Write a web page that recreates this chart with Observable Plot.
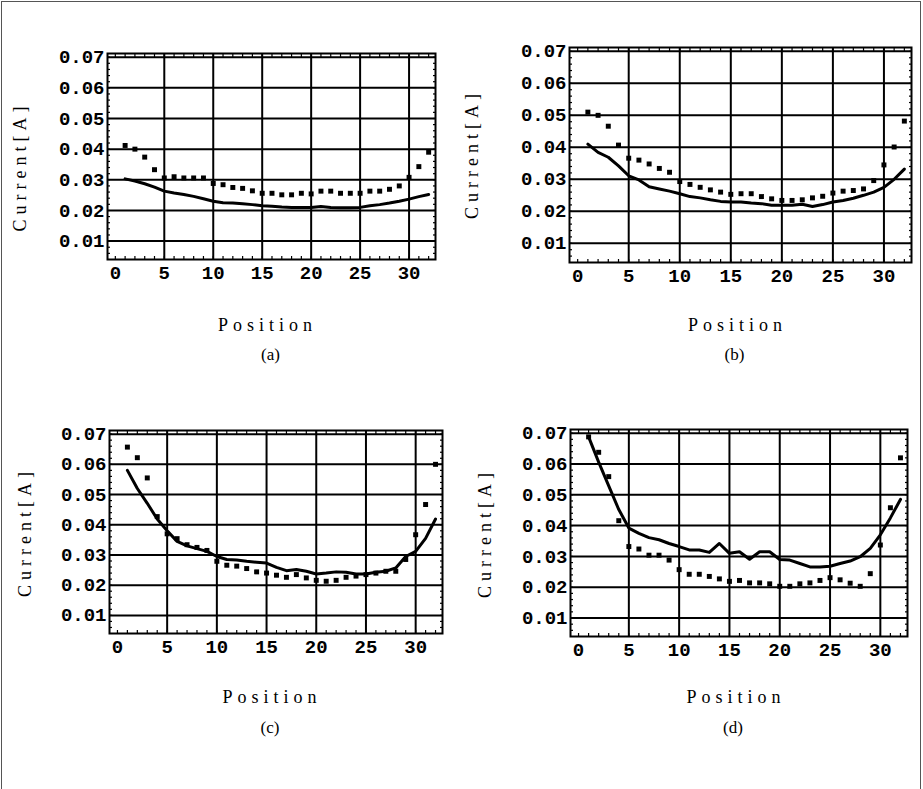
<!DOCTYPE html>
<html><head><meta charset="utf-8">
<script src="https://cdn.jsdelivr.net/npm/d3@7"></script>
<script src="https://cdn.jsdelivr.net/npm/@observablehq/plot@0.6"></script>
<style>
html,body{margin:0;padding:0;background:#fff;overflow:hidden;}
#page{position:relative;width:923px;height:789px;overflow:hidden;background:#fff;}
#border{position:absolute;left:1px;top:1px;width:918px;height:820px;border:1.5px solid #555;}
.panel{position:absolute;}
</style></head>
<body><div id="page"><div id="border"></div></div>
<script>
const positions = [1,2,3,4,5,6,7,8,9,10,11,12,13,14,15,16,17,18,19,20,21,22,23,24,25,26,27,28,29,30,31,32];

const squaresA = [0.0412,0.0400,0.0374,0.0333,0.0306,0.0310,0.0306,0.0306,0.0306,0.0288,0.0284,0.0275,0.0272,0.0264,0.0256,0.0256,0.0251,0.0251,0.0256,0.0254,0.0263,0.0263,0.0256,0.0256,0.0256,0.0263,0.0263,0.0269,0.0280,0.0308,0.0343,0.0390];
const lineA = [0.0303,0.0296,0.0287,0.0276,0.0263,0.0257,0.0252,0.0246,0.0238,0.0230,0.0225,0.0224,0.0222,0.0219,0.0215,0.0214,0.0211,0.0210,0.0210,0.0210,0.0213,0.0210,0.0209,0.0209,0.0210,0.0215,0.0219,0.0224,0.0230,0.0237,0.0245,0.0252];

const squaresB = [0.0510,0.0500,0.0466,0.0407,0.0366,0.0360,0.0348,0.0334,0.0322,0.0293,0.0284,0.0275,0.0267,0.0260,0.0253,0.0255,0.0255,0.0246,0.0239,0.0234,0.0234,0.0236,0.0242,0.0247,0.0257,0.0263,0.0265,0.0270,0.0296,0.0345,0.0401,0.0482];
const lineB = [0.0410,0.0384,0.0369,0.0342,0.0311,0.0298,0.0277,0.0270,0.0263,0.0255,0.0246,0.0242,0.0236,0.0231,0.0229,0.0229,0.0226,0.0224,0.0219,0.0219,0.0219,0.0222,0.0215,0.0221,0.0229,0.0234,0.0241,0.0250,0.0260,0.0275,0.0300,0.0332];

const squaresC = [0.0657,0.0622,0.0555,0.0427,0.0370,0.0354,0.0334,0.0325,0.0315,0.0279,0.0266,0.0263,0.0255,0.0244,0.0240,0.0233,0.0226,0.0235,0.0224,0.0216,0.0213,0.0216,0.0226,0.0230,0.0235,0.0240,0.0246,0.0246,0.0285,0.0367,0.0467,0.0600];
const lineC = [0.0580,0.0520,0.0471,0.0419,0.0380,0.0345,0.0330,0.0321,0.0312,0.0295,0.0285,0.0283,0.0279,0.0276,0.0273,0.0259,0.0248,0.0252,0.0246,0.0237,0.0240,0.0244,0.0243,0.0237,0.0237,0.0243,0.0246,0.0257,0.0295,0.0312,0.0355,0.0419];

const squaresD = [0.0688,0.0638,0.0559,0.0416,0.0332,0.0324,0.0304,0.0304,0.0288,0.0257,0.0242,0.0242,0.0235,0.0227,0.0219,0.0222,0.0214,0.0214,0.0211,0.0203,0.0203,0.0211,0.0214,0.0222,0.0231,0.0224,0.0213,0.0203,0.0244,0.0337,0.0458,0.0620];
const lineD = [0.0688,0.0606,0.0529,0.0452,0.0392,0.0375,0.0361,0.0354,0.0342,0.0332,0.0321,0.0321,0.0313,0.0342,0.0310,0.0315,0.0291,0.0315,0.0315,0.0290,0.0288,0.0277,0.0266,0.0266,0.0268,0.0277,0.0285,0.0299,0.0326,0.0370,0.0425,0.0485];

const xTicks = [0,5,10,15,20,25,30];
const xGrid = [5,10,15,20,25,30];
const yTicks = [0.01,0.02,0.03,0.04,0.05,0.06,0.07];
const captions = ["(a)","(b)","(c)","(d)"];
const xLabel = "Position";
const yLabel = "Current[A]";

const xMinor = d3.range(0, 33, 1);
const yMinor = d3.range(0.006, 0.0711, 0.002);

function panel(sq, ln, cap, g) {
  const data = positions.map((x, i) => ({x, sq: sq[i], ln: ln[i]}));
  const serif = "'Liberation Serif', 'Times New Roman', serif";
  const svg = Plot.plot({
    width: g.w, height: g.h,
    marginLeft: g.ml, marginRight: g.mr, marginTop: g.mt, marginBottom: g.mb,
    style: {background: "transparent", fontFamily: "'Liberation Mono', 'Courier New', monospace", fontSize: "19px", fontWeight: "bold", color: "#000", overflow: "visible"},
    x: {domain: [-0.8, 32.7]},
    y: {domain: [0.004, 0.0712]},
    marks: [
      Plot.ruleX(xGrid, {stroke: "#000", strokeWidth: 2}),
      Plot.ruleY(yTicks, {stroke: "#000", strokeWidth: 2}),
      Plot.axisX(xMinor, {anchor: "top", tickSize: -3, tickFormat: () => "", label: null, strokeWidth: 1.2}),
      Plot.axisX(xMinor, {anchor: "bottom", tickSize: -3, tickFormat: () => "", label: null, strokeWidth: 1.2}),
      Plot.axisY(yMinor, {anchor: "left", tickSize: -3, tickFormat: () => "", label: null, strokeWidth: 1.2}),
      Plot.axisY(yMinor, {anchor: "right", tickSize: -3, tickFormat: () => "", label: null, strokeWidth: 1.2}),
      Plot.axisX(xTicks, {anchor: "bottom", tickSize: 0, tickPadding: 6, label: null, tickFormat: d => String(d)}),
      Plot.axisY(yTicks, {anchor: "left", tickSize: 0, tickPadding: 3, label: null, tickFormat: d => d.toFixed(2)}),
      Plot.frame({stroke: "#000", strokeWidth: 2}),
      Plot.line(data, {x: "x", y: "ln", stroke: "#000", strokeWidth: 3, strokeLinejoin: "round", strokeLinecap: "round"}),
      Plot.dot(data, {x: "x", y: "sq", symbol: "square", r: 2.8, fill: "#000", stroke: null}),
      Plot.text([yLabel], {frameAnchor: "left", text: d => d, rotate: -90, dx: g.ydx, dy: g.ydy, textAnchor: "middle", lineAnchor: "middle", fontFamily: serif, fontSize: 18, fontWeight: "normal", fill: "#000"}),
      Plot.text([xLabel], {frameAnchor: "bottom", text: d => d, dx: g.pdx, dy: g.pdy, textAnchor: "middle", lineAnchor: "middle", fontFamily: serif, fontSize: 18, fontWeight: "normal", fill: "#000"}),
      Plot.text([cap], {frameAnchor: "bottom", text: d => d, dx: g.cdx, dy: g.cdy, textAnchor: "middle", lineAnchor: "middle", fontFamily: serif, fontSize: 17, fontWeight: "normal", fill: "#000"})
    ]
  });
  d3.select(svg).selectAll("text").filter(function() {
    return this.textContent === xLabel || this.textContent === yLabel;
  }).style("letter-spacing", "5px");
  const div = document.createElement("div");
  div.className = "panel";
  div.style.left = g.left + "px";
  div.style.top = g.top + "px";
  div.appendChild(svg);
  document.getElementById("page").appendChild(div);
}

panel(squaresA, lineA, captions[0], {left: 0, top: 0, w: 460, h: 394, ml: 107, mr: 25, mt: 53, mb: 135, ydx: -87, ydy: 10, pdx: -4, pdy: 66, cdx: -1, cdy: 95});
panel(squaresB, lineB, captions[1], {left: 460, top: 0, w: 463, h: 394, ml: 109, mr: 12, mt: 47, mb: 132, ydx: -97, ydy: -1, pdx: -3, pdy: 63, cdx: -6, cdy: 92});
panel(squaresC, lineC, captions[2], {left: 0, top: 394, w: 460, h: 395, ml: 109, mr: 18, mt: 36, mb: 156, ydx: -84, ydy: 0, pdx: -4, pdy: 64, cdx: -6, cdy: 94});
panel(squaresD, lineD, captions[3], {left: 460, top: 394, w: 463, h: 395, ml: 110, mr: 16, mt: 35, mb: 153, ydx: -85, ydy: 0, pdx: -3, pdy: 61, cdx: -6, cdy: 91});
</script>
</body></html>
